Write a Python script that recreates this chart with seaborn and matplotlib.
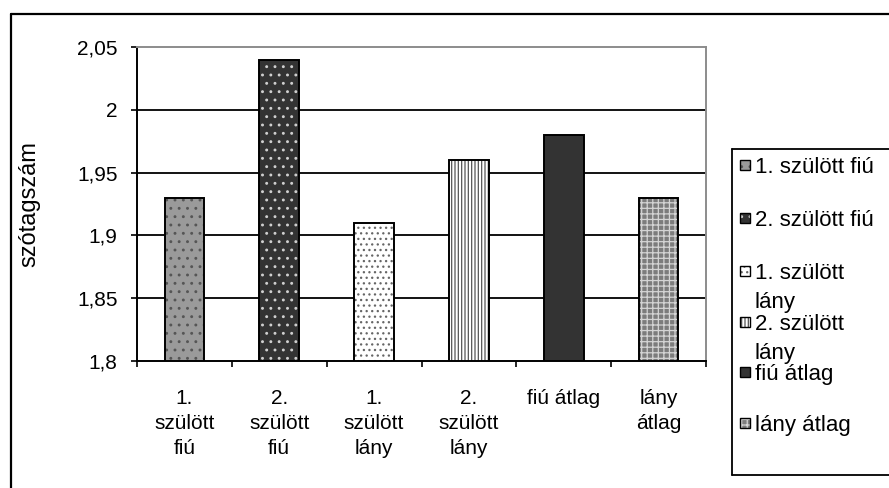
import matplotlib
matplotlib.use("Agg")
import matplotlib.pyplot as plt
from matplotlib.patches import Rectangle
from matplotlib.lines import Line2D
from matplotlib.ticker import FixedLocator, FuncFormatter
import seaborn as sns
import pandas as pd

# --- data ---
categories = ["1. szülött fiú", "2. szülött fiú", "1. szülött lány",
              "2. szülött lány", "fiú átlag", "lány átlag"]
tick_labels = ["1.\nszülött\nfiú", "2.\nszülött\nfiú", "1.\nszülött\nlány",
               "2.\nszülött\nlány", "fiú átlag", "lány\nátlag"]
legend_labels = ["1. szülött fiú", "2. szülött fiú", "1. szülött\nlány",
                 "2. szülött\nlány", "fiú átlag", "lány átlag"]
values = [1.93, 2.04, 1.91, 1.96, 1.98, 1.93]
y_ticks = [1.8, 1.85, 1.9, 1.95, 2.0, 2.05]

# --- styling: face colour, hatch pattern, hatch colour per bar ---
face_colors = ["#9a9a9a", "#333333", "#ffffff", "#ffffff", "#333333", "#7c7c7c"]
hatches = ["..", "..", "...", "|||||", None, "+++"]
hatch_colors = ["#555555", "#d0d0d0", "#666666", "#555555", None, "#d4d4d4"]

FS = 15

sns.set_theme(style="white")
plt.rcParams["font.family"] = ["Liberation Sans", "DejaVu Sans"]
plt.rcParams["hatch.linewidth"] = 0.9

W, H = 889, 488
fig = plt.figure(figsize=(W / 100, H / 100), dpi=100)
fig.patch.set_facecolor("white")


def fx(px):
    return px / W


def fy(py):
    return 1 - py / H


ax = fig.add_axes([fx(137), fy(361), fx(706) - fx(137), fy(47) - fy(361)])

df = pd.DataFrame({"cat": categories, "val": values})
sns.barplot(data=df, x="cat", y="val", hue="cat", palette=face_colors,
            width=0.42, linewidth=0, legend=False, ax=ax, saturation=1)

# hatch overlays and black outlines on each bar
for p in list(ax.patches):
    i = int(round(p.get_x() + p.get_width() / 2))
    bx, by, bw, bh = p.get_x(), p.get_y(), p.get_width(), p.get_height()
    if hatches[i]:
        ax.add_patch(Rectangle((bx, by), bw, bh, fill=False, hatch=hatches[i],
                               edgecolor=hatch_colors[i], lw=0, zorder=2.1))
    ax.add_patch(Rectangle((bx, by), bw, bh, fill=False, edgecolor="black",
                           lw=1.4, zorder=2.2))

ax.set_ylim(1.8, 2.05)
ax.set_xlim(-0.5, len(categories) - 0.5)
ax.yaxis.set_major_locator(FixedLocator(y_ticks))
ax.yaxis.set_major_formatter(FuncFormatter(lambda v, _: f"{v:g}".replace(".", ",")))

ax.set_xticks(range(len(categories)))
ax.set_xticklabels(tick_labels, fontsize=FS, linespacing=1.4)
ax.xaxis.set_minor_locator(FixedLocator([k - 0.5 for k in range(len(categories) + 1)]))
ax.tick_params(axis="x", which="major", length=0, pad=20)
ax.tick_params(axis="x", which="minor", length=4, width=1.2, color="black",
               direction="out", bottom=True)
ax.tick_params(axis="y", length=4, width=1.2, color="black", direction="out",
               left=True, pad=10, labelsize=FS)
for lab in ax.get_yticklabels() + ax.get_xticklabels():
    lab.set_color("black")

ax.set_xlabel("")
ax.set_ylabel("szótagszám", fontsize=17, color="black")
ax.yaxis.set_label_coords((40 - 137) / (706 - 137), 0.5)

ax.yaxis.grid(True, color="black", lw=1.3)
ax.set_axisbelow(True)
gl = ax.yaxis.get_gridlines()
gl[0].set_visible(False)
gl[-1].set_visible(False)

for side in ("left", "bottom"):
    ax.spines[side].set_color("black")
    ax.spines[side].set_linewidth(1.4)
for side in ("top", "right"):
    ax.spines[side].set_visible(True)
    ax.spines[side].set_color("#8c8c8c")
    ax.spines[side].set_linewidth(1.4)

# outer chart frame (top and left edges)
fig.add_artist(Line2D([fx(11), 1], [fy(14), fy(14)], color="black", lw=1.6,
                      transform=fig.transFigure))
fig.add_artist(Line2D([fx(11), fx(11)], [0, fy(14)], color="black", lw=1.6,
                      transform=fig.transFigure))

# legend frame
lx0, ly0, ly1 = 732, 149, 475
fig.add_artist(Line2D([fx(lx0), 1], [fy(ly0), fy(ly0)], color="black", lw=1.3,
                      transform=fig.transFigure))
fig.add_artist(Line2D([fx(lx0), 1], [fy(ly1), fy(ly1)], color="black", lw=1.3,
                      transform=fig.transFigure))
fig.add_artist(Line2D([fx(lx0), fx(lx0)], [fy(ly1), fy(ly0)], color="black",
                      lw=1.3, transform=fig.transFigure))

# legend entries
entry_y = [165, 218, 271, 322, 372, 423]
sq = 9.5
sx = 740
for i, lab in enumerate(legend_labels):
    cy = entry_y[i]
    rx, ry = fx(sx), fy(cy + sq / 2)
    rw, rh = fx(sx + sq) - fx(sx), fy(cy - sq / 2) - fy(cy + sq / 2)
    fig.add_artist(Rectangle((rx, ry), rw, rh, facecolor=face_colors[i],
                             edgecolor="none", transform=fig.transFigure))
    if hatches[i]:
        fig.add_artist(Rectangle((rx, ry), rw, rh, fill=False, hatch=hatches[i],
                                 edgecolor=hatch_colors[i], lw=0,
                                 transform=fig.transFigure))
    fig.add_artist(Rectangle((rx, ry), rw, rh, fill=False, edgecolor="black",
                             lw=1.0, transform=fig.transFigure))
    for k, line in enumerate(lab.split("\n")):
        fig.text(fx(755), fy(cy + 29 * k), line, fontsize=16, color="black",
                 va="center_baseline", ha="left")

fig.savefig("out.png", dpi=100, facecolor="white")
